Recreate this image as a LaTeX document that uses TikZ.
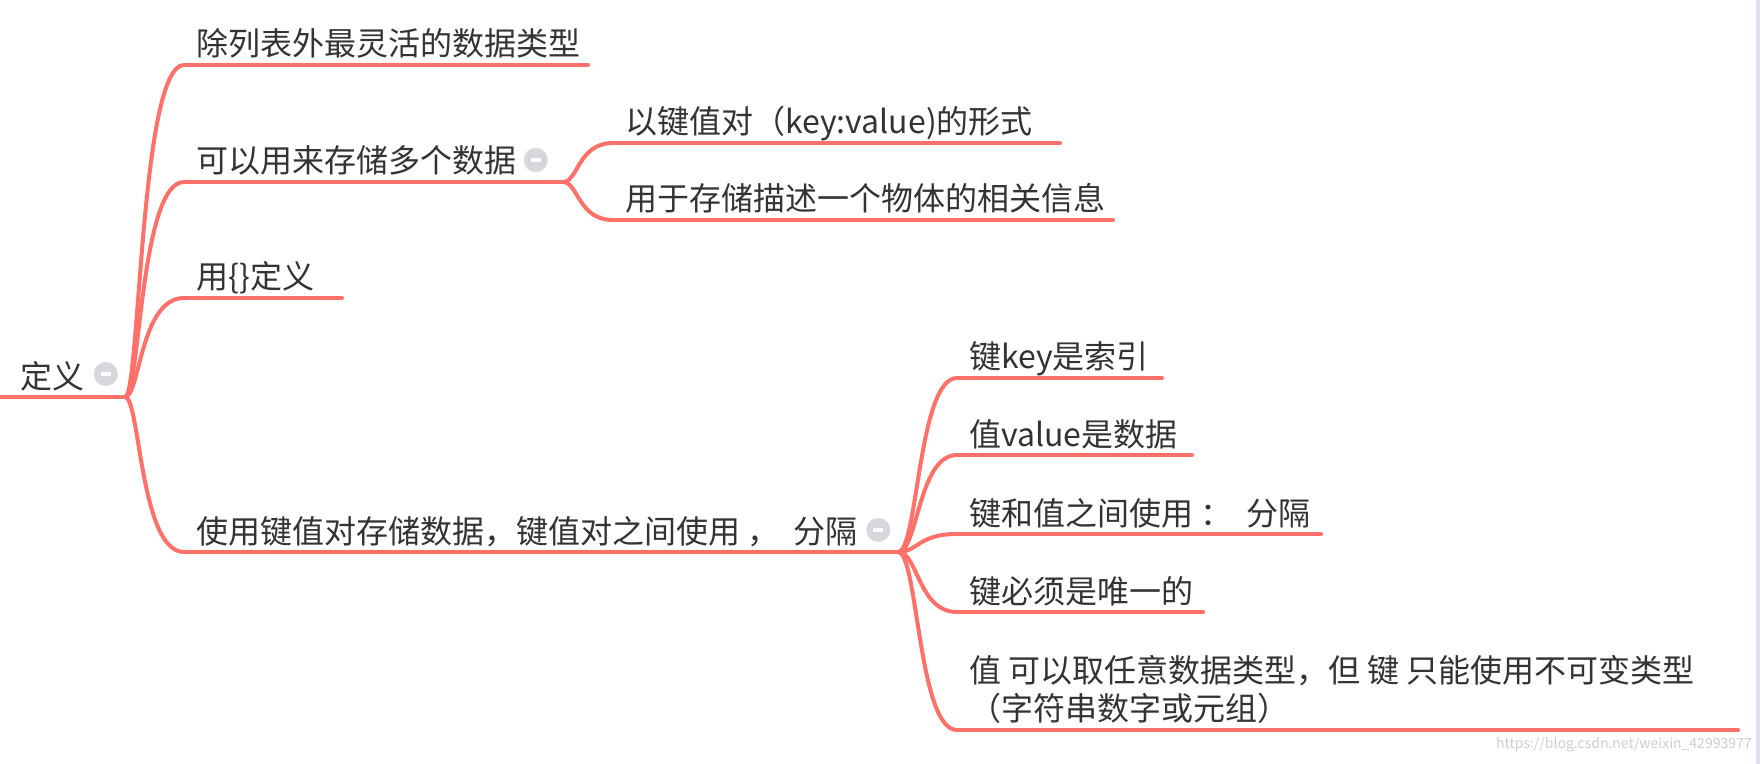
\documentclass[tikz,border=0pt]{standalone}
\usepackage{fontspec}
\setmainfont{Noto Sans CJK SC}
\usetikzlibrary{positioning, calc}
\definecolor{linered}{RGB}{255,112,104}
\definecolor{inkgray}{RGB}{51,51,51}
\definecolor{foldgray}{RGB}{214,215,221}
\definecolor{markgray}{RGB}{205,205,205}
\definecolor{edgeblue}{RGB}{222,226,240}

\begin{document}
\begin{tikzpicture}
[x=0.5pt, y=-0.5pt,
   branch/.style={draw=linered, line width=2pt, line cap=round},
   topic/.style={anchor=base west, inner sep=0pt, text=inkgray,
     font=\fontsize{16pt}{19pt}\selectfont},
   fold/.style={circle, fill=foldgray, minimum size=12pt, inner sep=0pt}]
\useasboundingbox (0,0) rectangle (1760,764);
\fill[edgeblue] (1756,0) rectangle (1760,764);

%% root
\coordinate (r0) at (0,397);
\coordinate (J0) at (125,397);
\node[topic] (root) at (20,388) {定义};
\node[fold] (rootF) at ($(root.base east)+(21,-14)$) {\color{white}\rule{5pt}{1.8pt}};
\draw[branch] (r0) -- (J0);

%% first level
\coordinate (c1s) at (184,65);  \coordinate (c1e) at (588,65);
\coordinate (c2s) at (184,182); \coordinate (J2) at (563,182);
\coordinate (c3s) at (184,298); \coordinate (c3e) at (342,298);
\coordinate (c4s) at (184,552); \coordinate (J4) at (898,552);
\node[topic] (t1) at ($(c1s)+(12,-9)$) {除列表外最灵活的数据类型};
\node[topic] (t2) at ($(c2s)+(12,-9)$) {可以用来存储多个数据};
\node[topic] (t3) at ($(c3s)+(12,-9)$) {用\{\}定义};
\node[topic] (t4) at ($(c4s)+(12,-9)$) {使用键值对存储数据，键值对之间使用\ ，\ \ 分隔};
\node[fold] (t2F) at ($(t2.base east)+(19,-13)$) {\color{white}\rule{5pt}{1.8pt}};
\node[fold] (t4F) at ($(t4.base east)+(20,-13)$) {\color{white}\rule{5pt}{1.8pt}};
\foreach \c in {c1s,c2s,c3s,c4s}
  \draw[branch] (J0) .. controls ($(J0)+(15,0)$) and ($(J0 |- \c)+(15,0)$) .. (\c);
\draw[branch] (c1s) -- (c1e);
\draw[branch] (c2s) -- (J2);
\draw[branch] (c3s) -- (c3e);
\draw[branch] (c4s) -- (J4);

%% second level, data storage
\coordinate (c21s) at (613,143); \coordinate (c21e) at (1060,143);
\coordinate (c22s) at (613,220); \coordinate (c22e) at (1113,220);
\node[topic] (t21) at ($(c21s)+(12,-9)$) {以键值对（key:value)的形式};
\node[topic] (t22) at ($(c22s)+(12,-9)$) {用于存储描述一个物体的相关信息};
\foreach \c in {c21s,c22s}
  \draw[branch] (J2) .. controls ($(J2)+(15,0)$) and ($(J2 |- \c)+(15,0)$) .. (\c);
\draw[branch] (c21s) -- (c21e);
\draw[branch] (c22s) -- (c22e);

%% second level, key value pairs
\coordinate (c41s) at (957,378); \coordinate (c41e) at (1162,378);
\coordinate (c42s) at (957,455); \coordinate (c42e) at (1192,455);
\coordinate (c43s) at (957,534); \coordinate (c43e) at (1321,534);
\coordinate (c44s) at (957,612); \coordinate (c44e) at (1203,612);
\coordinate (c45s) at (957,730); \coordinate (c45e) at (1738,730);
\node[topic] (t41) at ($(c41s)+(12,-9)$) {键key是索引};
\node[topic] (t42) at ($(c42s)+(12,-9)$) {值value是数据};
\node[topic] (t43) at ($(c43s)+(12,-9)$) {键和值之间使用\ ：\ \ 分隔};
\node[topic] (t44) at ($(c44s)+(12,-9)$) {键必须是唯一的};
\node[topic, align=left] (t45) at ($(c45s)+(12,-10)$)
  {值 可以取任意数据类型，但 键 只能使用不可变类型\\（字符串数字或元组）};
\foreach \c in {c41s,c42s,c43s,c44s,c45s}
  \draw[branch] (J4) .. controls ($(J4)+(20,0)$) and ($(J4 |- \c)+(20,0)$) .. (\c);
\foreach \c/\e in {c41s/c41e,c42s/c42e,c43s/c43e,c44s/c44e,c45s/c45e}
  \draw[branch] (\c) -- (\e);

\node[anchor=east, inner sep=0pt, text=markgray, font=\fontsize{7pt}{8pt}\selectfont]
  (mark) at (1752,745) {https://blog.csdn.net/weixin\_42993977};
\end{tikzpicture}
\end{document}
